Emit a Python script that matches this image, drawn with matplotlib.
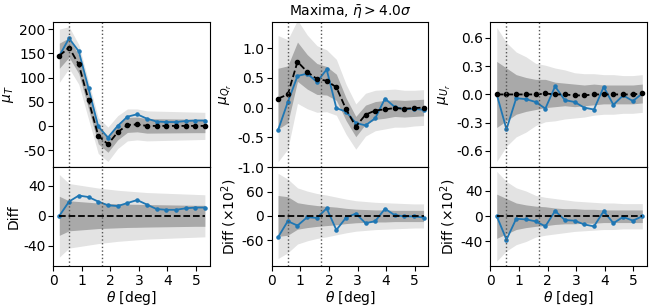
import matplotlib
matplotlib.use("Agg")
import matplotlib.pyplot as plt
import numpy as np

plt.rcParams["axes.unicode_minus"] = False
plt.rcParams["font.size"] = 10

# bin centres [deg]
theta = [0.22, 0.56, 0.90, 1.24, 1.58, 1.92, 2.26, 2.60,
         2.94, 3.28, 3.62, 3.96, 4.30, 4.64, 4.98, 5.31]
vlines = [0.56, 1.71]

# mu_T
T_mean = [145, 162, 127, 53, -20, -38, -13, 2, 3, 0, 0, 0, 0, 0, 0, 0]
T_data = [145, 181, 154, 78, -1, -24, 0, 19, 24, 15, 9, 8, 8, 10, 11, 11]
T_sig1 = [26, 20, 19, 18, 17, 16.5, 16, 15.5, 15.3, 15, 14.8, 14.6, 14.4, 14.2, 14, 14]
T_sig2 = [55, 43, 41, 39, 37, 35.5, 34, 33, 32, 31, 30.5, 30, 29.5, 29, 28.5, 28]

# mu_Qr
Q_mean = [0.15, 0.22, 0.77, 0.60, 0.48, 0.45, 0.34, -0.03,
          -0.32, -0.12, -0.05, -0.03, -0.01, -0.02, -0.01, 0.00]
Q_data = [-0.38, 0.09, 0.53, 0.57, 0.43, 0.64, -0.01, -0.07,
          -0.26, -0.30, -0.18, 0.15, 0.01, -0.03, -0.02, -0.04]
Q_sig1 = [51, 48, 33, 29, 26, 24, 22, 19, 17, 16, 15, 15, 14, 14, 14, 14]   # x1e-2
Q_sig2 = [106, 92, 70, 62, 56, 52, 47, 42, 38, 36, 34, 33, 32, 31, 30, 30]  # x1e-2

# mu_Ur
U_mean = [0.0, 0.0, 0.0, 0.0, 0.0, 0.01, 0.0, 0.0,
          -0.01, -0.01, 0.0, 0.0, 0.0, 0.0, 0.0, 0.01]
U_data = [0.0, -0.37, -0.04, -0.05, -0.08, -0.15, 0.085, -0.06,
          -0.08, -0.14, -0.16, 0.08, -0.11, -0.01, -0.07, 0.01]
U_sig1 = [35, 28, 21, 18, 16, 15, 13, 12, 12, 11, 11, 10, 10, 10, 10, 10]   # x1e-2
U_sig2 = [71, 55, 45, 40, 33, 30, 28, 26, 24, 23, 22, 21, 21, 20, 20, 20]   # x1e-2

panels = [
    dict(mean=T_mean, data=T_data, s1=T_sig1, s2=T_sig2, scale=1.0,
         ylabel=r"$\mu_T$", dlabel="Diff", ylim=(-85, 215), dlim=(-67, 65),
         yticks=[-50, 0, 50, 100, 150, 200], dticks=[-40, 0, 40]),
    dict(mean=Q_mean, data=Q_data, s1=Q_sig1, s2=Q_sig2, scale=100.0,
         ylabel=r"$\mu_{Q_r}$", dlabel=r"Diff ($\times 10^2$)", ylim=(-1.0, 1.44),
         dlim=(-125, 122), yticks=[-1.0, -0.5, 0.0, 0.5, 1.0], dticks=[-60, 0, 60]),
    dict(mean=U_mean, data=U_data, s1=U_sig1, s2=U_sig2, scale=100.0,
         ylabel=r"$\mu_{U_r}$", dlabel=r"Diff ($\times 10^2$)", ylim=(-0.77, 0.77),
         dlim=(-79, 78), yticks=[-0.6, -0.3, 0.0, 0.3, 0.6], dticks=[-40, 0, 40]),
]

LIGHT = "#e3e3e3"
DARK = "#a9a9a9"
BLUE = "#1f77b4"

fig = plt.figure(figsize=(6.55, 3.08), dpi=100)
gs = fig.add_gridspec(2, 3, height_ratios=[145, 99], hspace=0, wspace=0.396,
                      left=0.081, right=0.988, top=0.929, bottom=0.136)

x = np.array(theta)
for j, p in enumerate(panels):
    ax = fig.add_subplot(gs[0, j])
    axd = fig.add_subplot(gs[1, j], sharex=ax)

    mean = np.array(p["mean"])
    data = np.array(p["data"])
    s1 = np.array(p["s1"]) / p["scale"]
    s2 = np.array(p["s2"]) / p["scale"]
    diff = (data - mean) * p["scale"]

    ax.fill_between(x, mean - s2, mean + s2, color=LIGHT, lw=0)
    ax.fill_between(x, mean - s1, mean + s1, color=DARK, lw=0)
    ax.plot(x, data, "-", marker=".", ms=4.5, color=BLUE, lw=1.3)
    ax.plot(x, mean, "--", marker="o", ms=3, color="k", lw=1.3)

    axd.fill_between(x, -np.array(p["s2"]), np.array(p["s2"]), color=LIGHT, lw=0)
    axd.fill_between(x, -np.array(p["s1"]), np.array(p["s1"]), color=DARK, lw=0)
    axd.plot(x, diff, "-", marker=".", ms=4.5, color=BLUE, lw=1.3)
    axd.plot(x, np.zeros_like(x), "--", color="k", lw=1.3)

    for a in (ax, axd):
        for v in vlines:
            a.axvline(v, color="#555555", ls=":", lw=1.0)
        a.tick_params(pad=2)

    ax.set_ylim(*p["ylim"])
    ax.set_yticks(p["yticks"])
    axd.set_ylim(*p["dlim"])
    axd.set_yticks(p["dticks"])
    ax.set_xlim(0, 5.48)
    axd.set_xticks([0, 1, 2, 3, 4, 5])
    ax.tick_params(axis="x", bottom=False, labelbottom=False)
    ax.set_ylabel(p["ylabel"], labelpad=2)
    axd.set_ylabel(p["dlabel"], labelpad=2)
    axd.set_xlabel(r"$\theta$ [deg]", labelpad=1)
    if j == 1:
        ax.set_title(r"Maxima, $\bar{\eta} > 4.0\sigma$", fontsize=10, pad=5)

fig.savefig("out.png", dpi=100)
